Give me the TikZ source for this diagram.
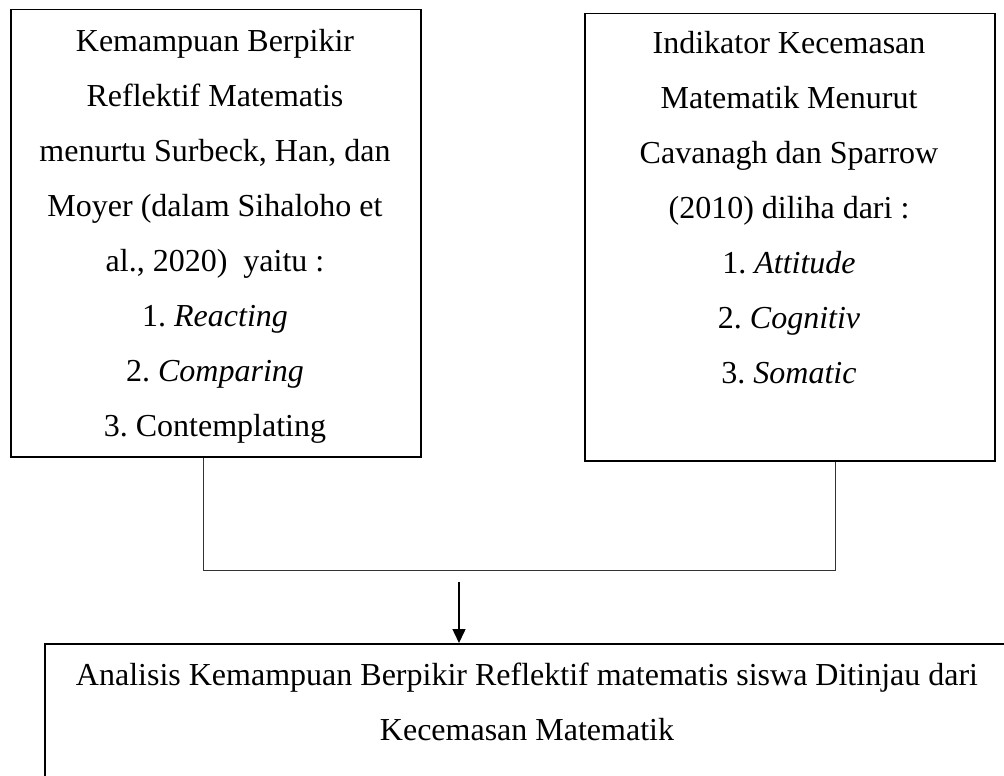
\documentclass[tikz,border=0pt]{standalone}
\usepackage{fontspec}
\setmainfont{Liberation Serif}
\usepackage{tikz}
\usetikzlibrary{
    calc,
    arrows.meta
}
\frenchspacing
\tikzset{
    box/.style={draw, line width=0.75pt, inner sep=0pt, anchor=north west},
    boxtext/.style={align=center, inner sep=0pt, anchor=north,
        font=\fontsize{16}{27.5}\selectfont},
    link/.style={draw=black!80, line width=0.5pt},
    arrowlink/.style={line width=0.75pt, -{Triangle[length=7pt,width=6.5pt]}}
}

\begin{document}
\begin{tikzpicture}[x=0.5pt,y=-0.5pt]
    \useasboundingbox (0,0) rectangle (1004,775);
    % boxes
    \node[box, minimum width=205pt, minimum height=223.5pt] (reflektif) at (10,9) {};
    \node[box, minimum width=205pt, minimum height=223.5pt] (kecemasan) at (584,13) {};
    \node[box, minimum width=483pt, minimum height=80pt] (analisis) at (44,643) {};
    % texts
    \node[boxtext] (reflektiftext) at (215,28.5) {Kemampuan Berpikir\\
        Reflektif Matematis\\
        menurtu Surbeck, Han, dan\\
        Moyer (dalam Sihaloho et\\
        al., 2020)\ \ yaitu :\\
        1. \textit{Reacting}\\
        2. \textit{Comparing}\\
        3. Contemplating};
    \node[boxtext] (kecemasantext) at (789,30.5) {Indikator Kecemasan\\
        Matematik Menurut\\
        Cavanagh dan Sparrow\\
        (2010) diliha dari :\\
        1. \textit{Attitude}\\
        2. \textit{Cognitiv}\\
        3. \textit{Somatic}};
    \node[boxtext] (analisistext) at (527,663) {Analisis Kemampuan Berpikir Reflektif matematis siswa Ditinjau dari\\
        Kecemasan Matematik};
    % connectors
    \coordinate (joinL) at (203,570);
    \coordinate (joinR) at (835,570);
    \coordinate (arrowtop) at (459,582);
    \draw[link] (reflektif.south -| joinL) -- (joinL) -- (joinR) -- (kecemasan.south -| joinR);
    \draw[arrowlink] (arrowtop) -- (arrowtop |- analisis.north);
\end{tikzpicture}
\end{document}
